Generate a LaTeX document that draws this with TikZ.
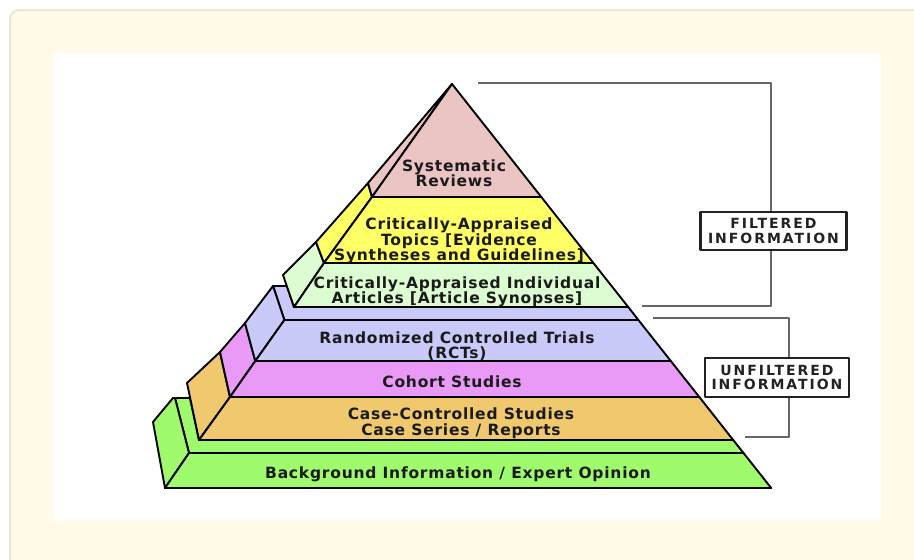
\documentclass[tikz,border=0pt]{standalone}
\usepackage{fontspec}
\newfontfamily\pyrfont[LetterSpace=5]{DejaVu Sans}
\newfontfamily\tagfont[LetterSpace=14]{DejaVu Sans}
\usetikzlibrary{calc}

\definecolor{cream}{HTML}{FFFBE8}
\definecolor{cardedge}{HTML}{ECE7D6}
\definecolor{txt}{HTML}{1A1A1A}
\definecolor{tagtxt}{HTML}{222222}
\definecolor{tagline}{HTML}{222222}
\definecolor{brk}{HTML}{666666}
\definecolor{srpink}{HTML}{EBC4C4}
\definecolor{catyellow}{HTML}{FFFF66}
\definecolor{caigreen}{HTML}{DCFCD2}
\definecolor{rctlav}{HTML}{CACAFA}
\definecolor{cohviolet}{HTML}{E89AF6}
\definecolor{ccorange}{HTML}{F0C86E}
\definecolor{bggreen}{HTML}{A0FA6E}

\begin{document}
\begin{tikzpicture}[x=1pt,y=-1pt,line join=round,
  face/.style={draw=black,line width=1.9pt},
  lbl/.style={font=\pyrfont\bfseries\fontsize{15.5}{15.5}\selectfont,text=txt,align=center,inner sep=0pt},
  tagbox/.style={draw=tagline,line width=2.6pt,fill=white,
    font=\tagfont\bfseries\fontsize{14}{14.5}\selectfont,text=tagtxt,align=center,
    minimum width=146pt,minimum height=38pt,inner sep=0pt},
  bracket/.style={draw=brk,line width=1.8pt}]

\useasboundingbox (0,0) rectangle (914,560);
\fill[white] (0,0) rectangle (914,560);
% card and white panel
\draw[fill=cream,draw=cardedge,line width=2pt,rounded corners=9pt] (10,10) rectangle (960,620);
\fill[white] (53,53) rectangle (881,520);

% ---- lower (unfiltered) slabs, bottom first ----
% background / expert opinion slab
\filldraw[face,fill=bggreen] (175,398) -- (190,398) -- (199,440) -- (733.2,440) -- (743.5,453) -- (189,453) -- cycle;
\filldraw[face,fill=bggreen] (189,453) -- (175,398) -- (173,398) -- (153,422) -- (165,488) -- cycle;
\filldraw[face,fill=bggreen] (189,453) -- (743.5,453) -- (771.2,488) -- (165,488) -- cycle;
% case-controlled slab
\filldraw[face,fill=ccorange] (230,397) -- (220,352) -- (187,383) -- (199,440) -- cycle;
\filldraw[face,fill=ccorange] (230,397) -- (699.3,397) -- (733.2,440) -- (199,440) -- cycle;
% cohort slab
\filldraw[face,fill=cohviolet] (255.3,361) -- (245,323) -- (220,352) -- (230,397) -- cycle;
\filldraw[face,fill=cohviolet] (255.3,361) -- (670.8,361) -- (699.3,397) -- (230,397) -- cycle;
% RCT slab
\filldraw[face,fill=rctlav] (273,286) -- (287,286) -- (294,307) -- (628.2,307) -- (638.4,320) -- (284.4,320) -- cycle;
\filldraw[face,fill=rctlav] (284.4,320) -- (273,286) -- (245,323) -- (255.3,361) -- cycle;
\filldraw[face,fill=rctlav] (284.4,320) -- (638.4,320) -- (670.8,361) -- (255.3,361) -- cycle;

% ---- upper (filtered) pyramid ----
\filldraw[face,fill=caigreen] (316,242) -- (324,263) -- (294,307) -- (283,275) -- cycle;
\filldraw[face,fill=caigreen] (324,263) -- (593.4,263) -- (628.2,307) -- (294,307) -- cycle;
\filldraw[face,fill=catyellow] (368,183) -- (372,197) -- (324,263) -- (316,242) -- cycle;
\filldraw[face,fill=catyellow] (372,197) -- (541.3,197) -- (593.4,263) -- (324,263) -- cycle;
\filldraw[face,fill=srpink] (452,84) -- (372,197) -- (368,183) -- cycle;
\filldraw[face,fill=srpink] (452,84) -- (541.3,197) -- (372,197) -- cycle;

% ---- layer labels ----
\node[lbl] (sr)  at (454,173) {Systematic\\Reviews};
\node[lbl] (cat) at (459,241) {Critically-Appraised\\Topics [Evidence\\Syntheses and Guidelines]};
\node[lbl] (cai) at (457,292) {Critically-Appraised Individual\\Articles [Article Synopses]};
\node[lbl] (rct) at (457,346) {Randomized Controlled Trials\\(RCTs)};
\node[lbl] (coh) at (452,382) {Cohort Studies};
\node[lbl] (ccs) at (461,423) {Case-Controlled Studies\\Case Series / Reports};
\node[lbl] (bgo) at (458,474) {Background Information / Expert Opinion};

% ---- brackets with tags ----
\node[tagbox] (ftag) at (773.5,231) {FILTERED\\INFORMATION};
\node[tagbox,minimum width=144pt,minimum height=39pt] (utag) at (777,377.5) {UNFILTERED\\INFORMATION};

\coordinate (ftop) at (478,83);
\coordinate (fcorner) at (771,83);
\coordinate (fbot) at (642,306);
\coordinate (utop) at (653,318);
\coordinate (ucorner) at (789,318);
\coordinate (ubot) at (745,437);

\draw[bracket] (ftop) -- (fcorner) -- (fcorner |- ftag.north);
\draw[bracket] (fcorner |- ftag.south) -- (fcorner |- fbot) -- (fbot);
\draw[bracket] (utop) -- (ucorner) -- (ucorner |- utag.north);
\draw[bracket] (ucorner |- utag.south) -- (ucorner |- ubot) -- (ubot);
\end{tikzpicture}
\end{document}
